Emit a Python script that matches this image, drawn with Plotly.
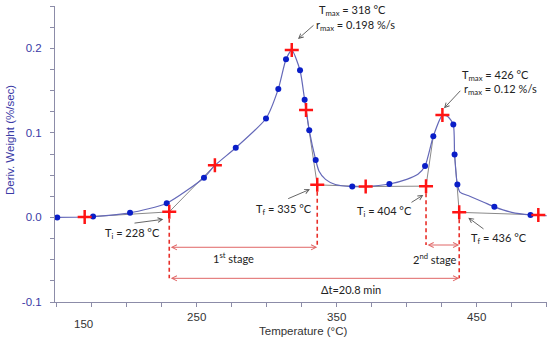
import plotly.graph_objects as go

# ---------------- data ----------------
curve_T = [148.8, 170, 176, 202.4, 228.6, 255.2, 263, 277.9, 299.5, 308.3, 313.8, 317.9, 323.8,
           327.1, 330.4, 335, 337.3, 342, 349, 361.1, 370.7, 387.6, 400, 408, 413.1, 419, 425.5,
           429.5, 433.3, 434.2, 436.2, 438, 445, 455, 462.6, 475, 488.4, 500]
curve_v = [0, 0.0005, 0.001, 0.0054, 0.0168, 0.047, 0.0615, 0.0824, 0.117, 0.152, 0.187, 0.198, 0.174,
           0.139, 0.103, 0.068, 0.055, 0.045, 0.039, 0.0365, 0.0365, 0.0395, 0.045, 0.051, 0.0607, 0.096, 0.121,
           0.119, 0.1098, 0.0745, 0.039, 0.030, 0.025, 0.018, 0.0125, 0.006, 0.003, 0.002]

dots_T = [150.4, 176, 202.4, 228.6, 255.2, 277.9, 299.5, 308.3, 313.8, 323.8, 327.1, 330.4, 335,
          361.1, 387.6, 413.1, 419, 433.3, 434.2, 436.2, 462.6, 488.4]
dots_v = [0, 0.001, 0.0054, 0.0168, 0.047, 0.0824, 0.117, 0.152, 0.187, 0.174, 0.139, 0.103, 0.068,
          0.0365, 0.0395, 0.0607, 0.096, 0.1098, 0.0745, 0.039, 0.0125, 0.003]

cross_T = [170, 230.4, 263, 317.9, 328.1, 336.1, 370.7, 413.8, 425.5, 437.5, 494]
cross_v = [0.0005, 0.0066, 0.0617, 0.198, 0.127, 0.0385, 0.0365, 0.037, 0.121, 0.006, 0.003]

# tangent / baseline segments (gray)
tan_T = [170, 230.4, None, 230.4, 263, None, 328.1, 336.1, None, 336.1, 370.7, 413.8, None,
         413.8, 419, None, 434.2, 437.5, None, 437.5, 494]
tan_v = [0.0005, 0.0066, None, 0.0066, 0.0617, None, 0.127, 0.0385, None, 0.0385, 0.0365, 0.037, None,
         0.037, 0.096, None, 0.0745, 0.006, None, 0.006, 0.003]

# stage levels
stage1_v = -0.0353
stage2_v = -0.0326
delta_v = -0.072
drop_T = [230.4, 230.4, None, 336.1, 336.1, None, 413.8, 413.8, None, 437.5, 437.5]
drop_v = [0.0066, delta_v, None, 0.0385, stage1_v, None, 0.037, stage2_v, None, 0.006, delta_v]

x_tickvals = [250, 350, 450]
x_ticktext = ["250", "350", "450"]
y_tickvals = [-0.1, 0.0, 0.1, 0.2]
y_ticktext = ["-0.1", "0.0", "0.1", "0.2"]

# ---------------- figure ----------------
X0, X1 = 148.8, 500.2
Y0, Y1 = -0.1, 0.25
L, R, T, B = 55, 3, 6, 38
W, H = 550, 340
pw, ph = W - L - R, H - T - B


def px2x(px):
    return X0 + (px - L) / pw * (X1 - X0)


def py2y(py):
    return Y1 - (py - T) / ph * (Y1 - Y0)


fig = go.Figure()
fig.add_trace(go.Scatter(x=tan_T, y=tan_v, mode="lines", line=dict(color="#8a8a8a", width=1),
                         hoverinfo="skip", showlegend=False))
fig.add_trace(go.Scatter(x=curve_T, y=curve_v, mode="lines", line=dict(color="#6468b8", width=1.2, shape="spline", smoothing=0.6),
                         showlegend=False))
fig.add_trace(go.Scatter(x=drop_T, y=drop_v, mode="lines", line=dict(color="#e8302a", width=1.6, dash="4px,3px"),
                         hoverinfo="skip", showlegend=False))
fig.add_trace(go.Scatter(x=dots_T, y=dots_v, mode="markers", marker=dict(color="#0a1ec8", size=6),
                         showlegend=False))
fig.add_trace(go.Scatter(x=cross_T, y=cross_v, mode="markers",
                         marker=dict(symbol="cross-thin", size=10, line=dict(color="#ff1414", width=2.5)),
                         showlegend=False))

txt_font = dict(family="Lato, Carlito, sans-serif", size=11, color="#222222")

# black pointer arrows (tail px, tail py, head px, head py)
arrows = [(315, 24, 298, 39), (461.7, 89.3, 444, 108.3), (133, 223.3, 163.3, 219.3),
          (286.7, 199.3, 310, 189.3), (410, 203.3, 423.3, 195), (485, 230, 468.3, 217.7)]
for tx, ty, hx, hy in arrows:
    fig.add_annotation(x=px2x(hx), y=py2y(hy), ax=px2x(tx), ay=py2y(ty), xref="x", yref="y",
                       axref="x", ayref="y", text="", showarrow=True, arrowhead=5, arrowsize=1,
                       arrowwidth=0.9, arrowcolor="#555555")

labels = [
    ("T<sub>max</sub> = 318 °C", 352.5, 10),
    ("r<sub>max</sub> = 0.198 %/s", 355, 25),
    ("T<sub>max</sub> = 426 °C", 495, 75),
    ("r<sub>max</sub> = 0.12 %/s", 500.8, 89.3),
    ("T<sub>i</sub> = 228 °C", 132.5, 233.3),
    ("T<sub>f</sub> = 335 °C", 284, 209.3),
    ("T<sub>i</sub> = 404 °C", 384, 211.7),
    ("T<sub>f</sub> = 436 °C", 499, 238.3),
    ("1<sup>st</sup> stage", 233, 257),
    ("2<sup>nd</sup> stage", 435, 258),
    ("Δt=20.8 min", 350.5, 289),
]
for text, cx, cy in labels:
    fig.add_annotation(x=px2x(cx), y=py2y(cy), xref="x", yref="y", text=text, showarrow=False,
                       font=txt_font, xanchor="center", yanchor="middle")

# double-headed red arrows
for xa, xb, yv in [(230.4, 336.1, stage1_v), (413.8, 437.5, stage2_v), (230.4, 437.5, delta_v)]:
    fig.add_annotation(x=xb, y=yv, ax=xa, ay=yv, xref="x", yref="y", axref="x", ayref="y",
                       text="", showarrow=True, arrowside="end+start", arrowhead=5, startarrowhead=5,
                       arrowsize=1, startarrowsize=1, arrowwidth=1, arrowcolor="#e06666")

# stray "150" tick label and axis title
axis_font = dict(family="Liberation Sans, Arial, sans-serif", size=11.5, color="#333333")
fig.add_annotation(x=px2x(83), y=(H - B - 324) / ph, xref="x", yref="paper", text="150",
                   showarrow=False, font=axis_font, yanchor="middle")
fig.add_annotation(x=px2x(302.5), y=(H - B - 331) / ph, xref="x", yref="paper", text="Temperature (°C)",
                   showarrow=False, font=axis_font, yanchor="middle")
fig.add_annotation(x=(10 - L) / pw, y=(H - B - 140) / ph, xref="paper", yref="paper",
                   text="Deriv. Weight (%/sec)", textangle=-90, showarrow=False,
                   font=dict(family="Liberation Sans, Arial, sans-serif", size=11.5, color="#3a3aa6"),
                   xanchor="center", yanchor="middle")

fig.update_layout(
    width=W, height=H, margin=dict(l=L, r=R, t=T, b=B),
    paper_bgcolor="white", plot_bgcolor="white", showlegend=False,
    xaxis=dict(range=[X0, X1], showgrid=False, zeroline=False, showline=True, linecolor="#8c8ca8",
               linewidth=1, ticks="outside", ticklen=4, tickcolor="#8c8ca8", tickvals=x_tickvals,
               ticktext=x_ticktext, tickfont=axis_font,
               minor=dict(ticks="outside", ticklen=4, tickcolor="#8c8ca8", tick0=150, dtick=25, showgrid=False)),
    yaxis=dict(range=[Y0, Y1], showgrid=False, zeroline=False, showline=True, linecolor="#8c8ca8",
               linewidth=1, ticks="outside", ticklen=4, tickcolor="#8c8ca8", tickvals=y_tickvals,
               ticktext=y_ticktext, ticklabelstandoff=6,
               tickfont=dict(family="Liberation Sans, Arial, sans-serif", size=11.5, color="#3a3aa6"),
               minor=dict(ticks="outside", ticklen=4, tickcolor="#8c8ca8", tick0=0, dtick=0.025, showgrid=False)),
)

fig.write_html("out.html", config={"displayModeBar": False},
               post_script="document.body.style.margin='0px';document.body.style.overflow='hidden';")
